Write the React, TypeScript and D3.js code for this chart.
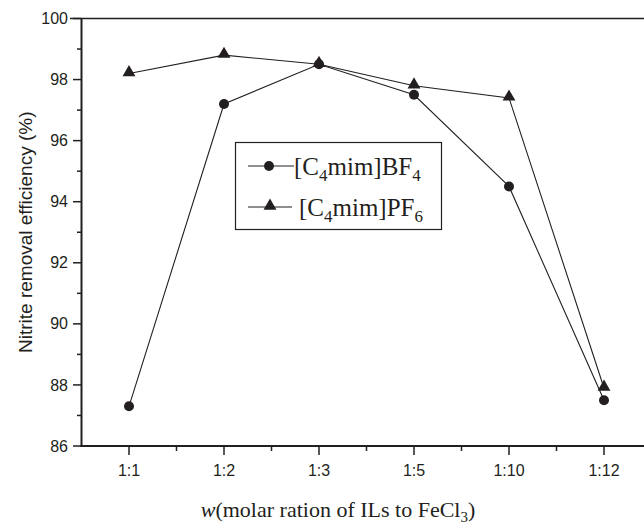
import React from "react";
import * as d3 from "d3";

const categories = ["1:1", "1:2", "1:3", "1:5", "1:10", "1:12"];
const bf4Values = [87.3, 97.2, 98.5, 97.5, 94.5, 87.5];
const pf6Values = [98.2, 98.8, 98.5, 97.8, 97.4, 87.9];
const yTicks = [86, 88, 90, 92, 94, 96, 98, 100];
const yMinorTicks = [87, 89, 91, 93, 95, 97, 99];

const W = 644;
const H = 524;
const ink = "#231f20";

export default function App() {
  const x = d3.scaleLinear().domain([0.5, 6.5]).range([81.5, 651.5]);
  const y = d3.scaleLinear().domain([86, 100]).range([446, 18.5]);
  const line = d3
    .line<number>()
    .x((_, i) => x(i + 1))
    .y((d) => y(d));
  const tri = d3.symbol().type(d3.symbolTriangle).size(72)();
  const xMinor = d3.range(1.5, 6.5, 1);

  return (
    <svg
      width={W}
      height={H}
      style={{ position: "absolute", left: 0, top: 0, background: "#fff" }}
    >
      <rect x={0} y={0} width={W} height={H} fill="#fff" />
      {/* frame */}
      <line x1={81.5} x2={81.5} y1={18.5} y2={447} stroke={ink} strokeWidth={2} />
      <line x1={70} x2={W} y1={18.5} y2={18.5} stroke={ink} strokeWidth={1.5} />
      <line x1={80.5} x2={W} y1={446} y2={446} stroke={ink} strokeWidth={2} />
      {/* y ticks */}
      {yTicks.map((t) => (
        <g key={t}>
          <line x1={73} x2={81.5} y1={y(t)} y2={y(t)} stroke={ink} strokeWidth={1.5} />
          <text
            x={68}
            y={y(t)}
            dy="0.35em"
            textAnchor="end"
            fontFamily="Liberation Sans, Arial, sans-serif"
            fontSize={16}
            fill={ink}
          >
            {t}
          </text>
        </g>
      ))}
      {yMinorTicks.map((t) => (
        <line key={t} x1={77} x2={81.5} y1={y(t)} y2={y(t)} stroke={ink} strokeWidth={1.5} />
      ))}
      {/* x ticks */}
      {categories.map((c, i) => (
        <g key={c}>
          <line x1={x(i + 1)} x2={x(i + 1)} y1={446} y2={455} stroke={ink} strokeWidth={1.5} />
          <text
            x={x(i + 1)}
            y={476}
            textAnchor="middle"
            fontFamily="Liberation Sans, Arial, sans-serif"
            fontSize={16}
            fill={ink}
          >
            {c}
          </text>
        </g>
      ))}
      {xMinor.map((t) => (
        <line key={t} x1={x(t)} x2={x(t)} y1={446} y2={451} stroke={ink} strokeWidth={1.5} />
      ))}
      {/* data lines */}
      <path d={line(bf4Values) || ""} fill="none" stroke={ink} strokeWidth={1.1} />
      <path d={line(pf6Values) || ""} fill="none" stroke={ink} strokeWidth={1.1} />
      {bf4Values.map((v, i) => (
        <circle key={i} cx={x(i + 1)} cy={y(v)} r={5} fill={ink} />
      ))}
      {pf6Values.map((v, i) => (
        <path key={i} d={tri || ""} transform={`translate(${x(i + 1)},${y(v) - 1})`} fill={ink} />
      ))}
      {/* legend */}
      <rect x={235.5} y={142.5} width={206} height={87} fill="#fff" stroke={ink} strokeWidth={1.2} />
      <line x1={248} x2={294} y1={166} y2={166} stroke={ink} strokeWidth={1.1} />
      <circle cx={269} cy={166} r={5} fill={ink} />
      <line x1={248} x2={292} y1={207} y2={207} stroke={ink} strokeWidth={1.1} />
      <path d={tri || ""} transform="translate(270,206)" fill={ink} />
      <text x={294} y={175} fontFamily="Liberation Serif, Times New Roman, serif" fontSize={25} fill={ink}>
        [C<tspan fontSize={17} dy={6}>4</tspan>
        <tspan dy={-6}>mim]BF</tspan>
        <tspan fontSize={17} dy={6}>4</tspan>
      </text>
      <text x={299} y={216} fontFamily="Liberation Serif, Times New Roman, serif" fontSize={25} fill={ink}>
        [C<tspan fontSize={17} dy={6}>4</tspan>
        <tspan dy={-6}>mim]PF</tspan>
        <tspan fontSize={17} dy={6}>6</tspan>
      </text>
      {/* axis titles */}
      <text
        transform={`translate(25,${(y(86) + y(100)) / 2}) rotate(-90)`}
        textAnchor="middle"
        dy="0.35em"
        fontFamily="Liberation Sans, Arial, sans-serif"
        fontSize={19}
        fill={ink}
      >
        Nitrite removal efficiency (%)
      </text>
      <text
        x={338}
        y={517}
        textAnchor="middle"
        fontFamily="Liberation Serif, Times New Roman, serif"
        fontSize={22}
        fill={ink}
      >
        <tspan fontStyle="italic">w</tspan>(molar ration of ILs to FeCl
        <tspan fontSize={15} dy={5}>3</tspan>
        <tspan dy={-5}>)</tspan>
      </text>
    </svg>
  );
}
